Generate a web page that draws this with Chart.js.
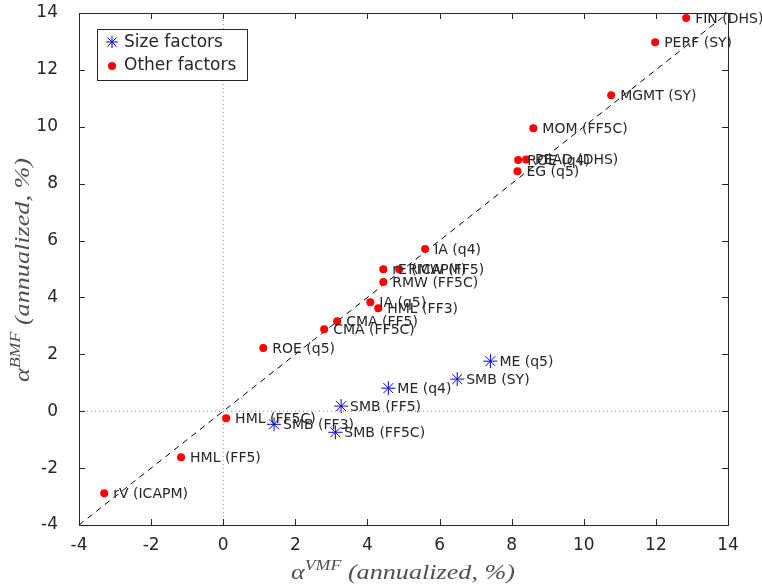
<!DOCTYPE html>
<html>
<head>
<meta charset="utf-8">
<script src="https://cdn.jsdelivr.net/npm/chart.js@4.4.0/dist/chart.umd.min.js"></script>
<style>
  html, body { margin: 0; padding: 0; background: #fff; }
  #wrap { width: 762px; height: 588px; }
</style>
</head>
<body>
<div id="wrap"><canvas id="c" width="762" height="588"></canvas></div>
<script>
// Size factors (blue asterisks)
const sizeNames = ['ME (q5)', 'SMB (SY)', 'ME (q4)', 'SMB (FF5)', 'SMB (FF3)', 'SMB (FF5C)'];
const sizeVMF   = [7.41, 6.49, 4.58, 3.27, 1.41, 3.11];
const sizeBMF   = [1.76, 1.13, 0.81, 0.18, -0.46, -0.74];

// Other factors (red dots)
const otherNames = ['FIN (DHS)', 'PERF (SY)', 'MGMT (SY)', 'MOM (FF5C)', 'ROE (q4)', 'PEAD (DHS)',
                    'EG (q5)', 'IA (q4)', 'rE (ICAPM)', 'RMW (FF5)', 'RMW (FF5C)', 'IA (q5)',
                    'HML (FF3)', 'CMA (FF5)', 'CMA (FF5C)', 'ROE (q5)', 'HML (FF5C)', 'HML (FF5)', 'rV (ICAPM)'];
const otherVMF = [12.84, 11.98, 10.76, 8.60, 8.18, 8.40, 8.16, 5.60, 4.44, 4.88, 4.44, 4.08,
                  4.30, 3.16, 2.80, 1.11, 0.08, -1.17, -3.30];
const otherBMF = [13.82, 12.97, 11.11, 9.95, 8.83, 8.85, 8.44, 5.70, 4.99, 4.99, 4.54, 3.83,
                  3.62, 3.16, 2.88, 2.22, -0.25, -1.62, -2.88];

// Axis ranges and ticks
const axisMin = -4, axisMax = 14;
const tickValues = [-4, -2, 0, 2, 4, 6, 8, 10, 12, 14];

const INK = '#262626';
const LABEL_FONT = '14px "DejaVu Sans", sans-serif';
const TICK_FONT = '17px "DejaVu Sans", sans-serif';

const toPts = (xs, ys) => xs.map((x, i) => ({ x: x, y: ys[i] }));

// Draws the box, inward ticks, tick labels, point labels, legend and axis titles
const decorations = {
  id: 'decorations',
  afterDatasetsDraw(chart) {
    const ctx = chart.ctx;
    const a = chart.chartArea;
    const xs = chart.scales.x, ys = chart.scales.y;
    ctx.save();

    // point labels
    ctx.fillStyle = INK;
    ctx.font = LABEL_FONT;
    ctx.textAlign = 'left';
    ctx.textBaseline = 'middle';
    [[0, sizeNames], [1, otherNames]].forEach(([di, names]) => {
      const meta = chart.getDatasetMeta(di);
      meta.data.forEach((el, i) => {
        ctx.fillText(names[i], el.x + 9, el.y + 1);
      });
    });

    // box
    ctx.strokeStyle = INK;
    ctx.lineWidth = 1;
    ctx.strokeRect(Math.round(a.left) + 0.5, Math.round(a.top) + 0.5,
                   Math.round(a.right - a.left), Math.round(a.bottom - a.top));

    // inward ticks on all four sides
    const tl = 6;
    ctx.beginPath();
    tickValues.forEach(v => {
      const px = Math.round(xs.getPixelForValue(v)) + 0.5;
      ctx.moveTo(px, a.bottom); ctx.lineTo(px, a.bottom - tl);
      ctx.moveTo(px, a.top); ctx.lineTo(px, a.top + tl);
      const py = Math.round(ys.getPixelForValue(v)) + 0.5;
      ctx.moveTo(a.left, py); ctx.lineTo(a.left + tl, py);
      ctx.moveTo(a.right, py); ctx.lineTo(a.right - tl, py);
    });
    ctx.stroke();

    // tick labels
    ctx.font = TICK_FONT;
    ctx.fillStyle = INK;
    ctx.textAlign = 'center';
    ctx.textBaseline = 'middle';
    tickValues.forEach(v => {
      ctx.fillText(String(v), xs.getPixelForValue(v), a.bottom + 21);
    });
    ctx.textAlign = 'right';
    ctx.textBaseline = 'middle';
    tickValues.forEach(v => {
      ctx.fillText(String(v), a.left - 21, ys.getPixelForValue(v));
    });

    // legend
    const lx = 97, ly = 29, lw = 150, lh = 51;
    ctx.fillStyle = '#fff';
    ctx.fillRect(lx, ly, lw, lh);
    ctx.strokeStyle = INK;
    ctx.strokeRect(lx + 0.5, ly + 0.5, lw, lh);
    // asterisk marker
    ctx.strokeStyle = '#0000ff';
    ctx.lineWidth = 1;
    const mx = 112, my = 42, r = 6;
    ctx.beginPath();
    ctx.moveTo(mx, my - r); ctx.lineTo(mx, my + r);
    ctx.moveTo(mx - r, my); ctx.lineTo(mx + r, my);
    const d = r * 0.72;
    ctx.moveTo(mx - d, my - d); ctx.lineTo(mx + d, my + d);
    ctx.moveTo(mx - d, my + d); ctx.lineTo(mx + d, my - d);
    ctx.stroke();
    // dot marker
    ctx.fillStyle = '#ff0000';
    ctx.beginPath();
    ctx.arc(112, 66, 4, 0, Math.PI * 2);
    ctx.fill();
    ctx.fillStyle = INK;
    ctx.font = TICK_FONT;
    ctx.textAlign = 'left';
    ctx.textBaseline = 'middle';
    ctx.fillText('Size factors', 124, 43);
    ctx.fillText('Other factors', 124, 66);

    // axis titles: alpha with superscript, then "(annualized, %)"
    const drawTitle = (sup, cx, cy, rotate) => {
      ctx.save();
      ctx.translate(cx, cy);
      if (rotate) ctx.rotate(-Math.PI / 2);
      const big = 'italic 22px "Liberation Serif", serif';
      const small = 'italic 15px "Liberation Serif", serif';
      const rest = ' (annualized, %)';
      ctx.font = big; const w1 = ctx.measureText('\u03B1').width;
      ctx.font = small; const w2 = ctx.measureText(sup).width;
      ctx.font = big; const w3 = ctx.measureText(rest).width;
      const total = w1 + w2 + w3;
      const target = 224;
      const s = target / total;
      ctx.scale(s, 1);
      let x = -total / 2;
      ctx.fillStyle = '#505050';
      ctx.textAlign = 'left';
      ctx.textBaseline = 'alphabetic';
      ctx.font = big; ctx.fillText('\u03B1', x, 6); x += w1;
      ctx.font = small; ctx.fillText(sup, x, -3); x += w2;
      ctx.font = big; ctx.fillText(rest, x, 6);
      ctx.restore();
    };
    drawTitle('VMF', 403, 573, false);
    drawTitle('BMF', 23, 270, true);

    ctx.restore();
  }
};

new Chart(document.getElementById('c'), {
  type: 'scatter',
  data: {
    datasets: [
      {
        label: 'Size factors',
        data: toPts(sizeVMF, sizeBMF),
        pointStyle: 'star',
        radius: 7,
        borderColor: '#0000ff',
        backgroundColor: '#0000ff',
        borderWidth: 1,
        order: 1
      },
      {
        label: 'Other factors',
        data: toPts(otherVMF, otherBMF),
        pointStyle: 'circle',
        radius: 4,
        borderColor: '#ff0000',
        backgroundColor: '#ff0000',
        borderWidth: 0,
        order: 1
      },
      {
        label: '45-degree line',
        type: 'line',
        data: [{ x: axisMin, y: axisMin }, { x: axisMax, y: axisMax }],
        borderColor: '#000',
        borderWidth: 1,
        borderDash: [6, 5],
        pointRadius: 0,
        fill: false,
        order: 2
      },
      {
        label: 'x = 0',
        type: 'line',
        data: [{ x: 0, y: axisMin }, { x: 0, y: axisMax }],
        borderColor: '#888',
        borderWidth: 1,
        borderDash: [1, 3],
        pointRadius: 0,
        fill: false,
        order: 3
      },
      {
        label: 'y = 0',
        type: 'line',
        data: [{ x: axisMin, y: 0 }, { x: axisMax, y: 0 }],
        borderColor: '#888',
        borderWidth: 1,
        borderDash: [1, 3],
        pointRadius: 0,
        fill: false,
        order: 3
      }
    ]
  },
  options: {
    responsive: false,
    animation: false,
    devicePixelRatio: 1,
    layout: { padding: { top: 13, right: 34, left: 0, bottom: 0 } },
    plugins: { legend: { display: false }, tooltip: { enabled: false } },
    scales: {
      x: {
        type: 'linear', min: axisMin, max: axisMax,
        grid: { display: false }, border: { display: false },
        ticks: { display: false },
        afterFit(s) { s.height = 63; }
      },
      y: {
        type: 'linear', min: axisMin, max: axisMax,
        grid: { display: false }, border: { display: false },
        ticks: { display: false },
        afterFit(s) { s.width = 79; }
      }
    }
  },
  plugins: [decorations]
});
</script>
</body>
</html>
